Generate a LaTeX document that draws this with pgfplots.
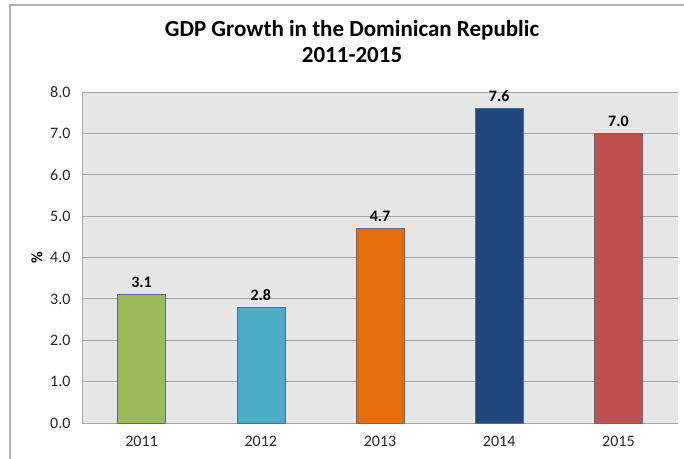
\documentclass[border=0pt]{standalone}
\usepackage{pgfplots}
\pgfplotsset{compat=1.18}
\usepackage{fontspec}
\setmainfont{Carlito}
\definecolor{bg}{HTML}{E6E6E6}
\definecolor{gridc}{HTML}{A6A6A6}
\definecolor{cA}{HTML}{9BBB59}
\definecolor{cB}{HTML}{4BACC6}
\definecolor{cC}{HTML}{E46C0A}
\definecolor{cD}{HTML}{1F497D}
\definecolor{cE}{HTML}{C0504D}
\definecolor{edge}{HTML}{4F6E8F}
\begin{document}
\begin{tikzpicture}[x=1pt,y=1pt]
\useasboundingbox (-82,-35) rectangle (602,423);
\draw[color=gray!60, line width=1.2pt] (-72,-40) -- (-72,418) -- (610,418);
\begin{axis}[
  at={(0,0)}, anchor=south west,
  scale only axis, width=596pt, height=331pt,
  xmin=-0.5, xmax=4.5, ymin=0, ymax=8,
  axis background/.style={fill=bg},
  axis x line*=bottom, axis y line*=left,
  axis line style={gridc, line width=0.8pt},
  ymajorgrids, grid style={gridc, line width=0.8pt},
  ytick={0,1,...,8},
  yticklabel style={/pgf/number format/fixed, /pgf/number format/fixed zerofill, /pgf/number format/precision=1, xshift=-8pt},
  /pgf/number format/assume math mode=true,
  tick label style={font=\fontsize{16}{18}\selectfont, color=black!85},
  xtick={0,1,2,3,4}, xticklabels={2011,2012,2013,2014,2015},
  xticklabel style={yshift=-10pt},
  major tick length=0pt,
  ybar, bar width=48pt, bar shift=0pt,
  clip=false,
  nodes near coords, point meta=explicit symbolic,
  every node near coord/.append style={font=\fontsize{16}{18}\selectfont\bfseries, color=black, yshift=3pt},
]
\addplot[fill=cA, draw=edge, line width=0.6pt] coordinates {(0,3.1) [3.1]};
\addplot[fill=cB, draw=edge, line width=0.6pt] coordinates {(1,2.8) [2.8]};
\addplot[fill=cC, draw=edge, line width=0.6pt] coordinates {(2,4.7) [4.7]};
\addplot[fill=cD, draw=edge, line width=0.6pt] coordinates {(3,7.6) [7.6]};
\addplot[fill=cE, draw=edge, line width=0.6pt] coordinates {(4,7.0) [7.0]};
\end{axis}
\node[font=\fontsize{23}{26}\selectfont\bfseries, anchor=base] at (270,386) {GDP Growth in the Dominican Republic};
\node[font=\fontsize{23}{26}\selectfont\bfseries, anchor=base] at (270,360) {2011-2015};
\node[font=\fontsize{16}{18}\selectfont\bfseries, rotate=90] at (-45,165.5) {\%};
\end{tikzpicture}
\end{document}
